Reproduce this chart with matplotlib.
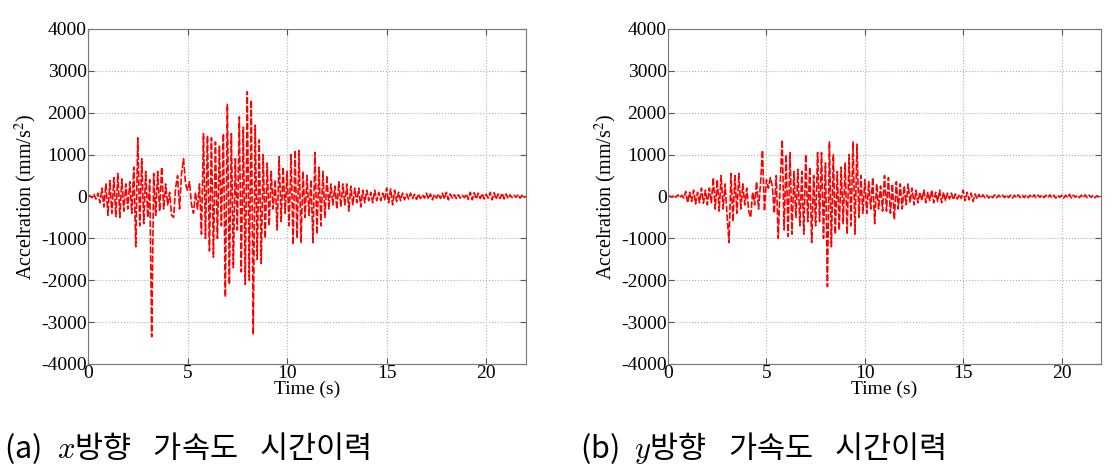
"""Acceleration time histories in the x and y directions."""

import matplotlib
matplotlib.use("Agg")
import matplotlib.pyplot as plt
import numpy as np

# sampled acceleration (mm/s^2), one value every 0.1 s from 0 to 22 s
dt = 0.1
acc_x = [
    0, 20, -30, 50, -60, 80, -150, 200, -250, 300,
    -450, 380, -400, 450, -480, 550, -500, 420, -350, 300,
    -300, 350, -400, 700, -1200, 1400, -700, 900, -650, 600,
    -500, 400, -3350, 550, -450, 600, -350, 700, -300, 300,
    -200, 100, -450, -500, 200, 500, -300, 550, 900, 300,
    150, 350, -200, -400, 100, -300, 300, -900, 1500, -1000,
    1450, -1300, 1400, -1450, 1300, -1000, 1200, -700, 1500, -2400,
    2200, -2100, 1500, -1700, 900, -800, 1900, -1800, 1650, -2100,
    2500, -2000, 2300, -3300, 1700, -1500, 1350, -1600, 1000, -1000,
    800, -700, 600, -300, 400, -800, 950, -600, 700, -400,
    600, -700, 1000, -1150, 1100, -1000, 1100, -1100, 600, -500,
    500, -450, 400, -1100, 1050, -900, 700, -700, 600, -500,
    500, -300, 300, -200, 250, -300, 350, -250, 300, -200,
    300, -350, 250, -200, 200, -150, 200, -250, 150, -150,
    150, -100, 100, -150, 150, -100, 100, -100, 80, -80,
    200, -150, 180, -200, 150, -120, 100, -100, 80, -80,
    60, -60, 80, -50, 50, -70, 60, -50, 40, -40,
    80, -60, 60, -80, 50, -40, 60, -50, 80, -60,
    100, -80, 60, -40, 40, -50, 40, -40, 30, -30,
    60, -70, 100, -80, 90, -60, 80, -50, 70, -60,
    50, -40, 100, -80, 90, -70, 60, -50, 80, -60,
    60, -50, 40, -30, 30, -20, 50, -40, 30, -20,
    0,
]
acc_y = [
    0, 10, -20, 30, -20, 40, -30, 30, -40, 120,
    -150, 100, -120, 150, -180, 100, -150, 200, -160, 150,
    -200, 200, -150, 450, -300, 400, -350, 500, -300, 300,
    -450, -1100, 550, -600, 500, -400, 550, -300, 300, -200,
    200, -350, -500, 100, -200, 350, -300, 300, 1100, -350,
    400, 200, 450, 250, -400, 500, -1000, 300, 1350, -800,
    1000, -950, 1050, -900, 600, -500, 650, -700, 600, -900,
    1000, -600, 700, -1100, 500, -700, 1050, -600, 1050, -1000,
    800, -2150, 1300, -1200, 1000, -900, 600, -800, 700, -650,
    800, -900, 1000, -700, 1300, -900, 1250, -500, 500, -400,
    400, -400, 350, -300, 450, -650, 300, -300, 250, -350,
    500, -350, 450, -400, 300, -550, 350, -300, 300, -300,
    250, -200, 300, -150, 200, -200, 150, -150, 100, -100,
    150, -150, 100, -100, 150, -150, 100, -120, 150, -150,
    100, -100, 80, -60, 80, -80, 60, -60, 50, -50,
    150, -100, 100, -80, 80, -120, 60, -60, 50, -40,
    40, -30, 30, -40, 30, -30, 40, -30, 30, -20,
    30, -30, 40, -30, 30, -40, 30, -30, 40, -30,
    30, -30, 40, -30, 30, -30, 40, -30, 30, -20,
    40, -30, 30, -30, 40, -30, 30, -40, 30, -20,
    30, -40, 30, -30, 50, -40, 30, -20, 30, -30,
    30, -30, 40, -30, 30, -20, 30, -30, 20, -20,
    0,
]
captions = ["(a)\u2002$x$방향\u2002 가속도\u2002 시간이력",
            "(b)\u2002$y$방향\u2002 가속도\u2002 시간이력"]

plt.rcParams["font.family"] = ["Liberation Serif"]
plt.rcParams["axes.unicode_minus"] = False

fig = plt.figure(figsize=(11.18, 4.74), dpi=100)
ax_a = fig.add_axes([0.0787, 0.2321, 0.3918, 0.7068])
ax_b = fig.add_axes([0.5975, 0.2321, 0.3873, 0.7068])

for ax, acc in ((ax_a, acc_x), (ax_b, acc_y)):
    t = np.arange(len(acc)) * dt
    ax.plot(t, acc, color="#ff0000", linestyle="--", linewidth=1.2, dashes=(4, 1.2))
    ax.set_xlim(0, 22)
    ax.set_ylim(-4000, 4000)
    ax.set_xticks([0, 5, 10, 15, 20])
    ax.set_yticks(np.arange(-4000, 4001, 1000))
    ax.grid(True, linestyle=":", color="#b0b0b0", linewidth=0.8)
    ax.tick_params(direction="in", top=True, right=True, labelsize=14,
                   length=4, pad=1, color="#555555")
    for sp in ax.spines.values():
        sp.set_color("#777777")
    ax.set_xlabel("Time (s)", fontsize=14, labelpad=-1)
    ax.set_ylabel("Accelration (mm/s$^2$)", fontsize=14.5, labelpad=1,
                  math_fontfamily="stix")

for x0, cap in zip([0.004, 0.519], captions):
    fig.text(x0, 0.055, cap, fontsize=22, va="center", ha="left",
             family=["Noto Sans CJK KR", "DejaVu Sans"], math_fontfamily="cm")

fig.savefig("out.png", dpi=100)
plt.close(fig)
